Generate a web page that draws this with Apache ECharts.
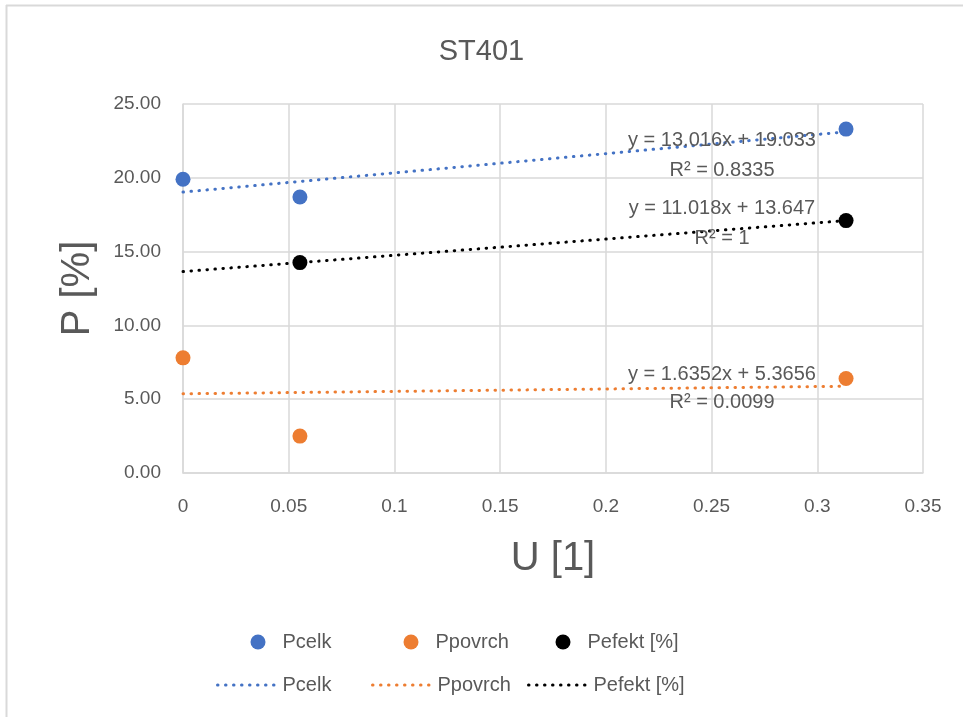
<!DOCTYPE html>
<html><head><meta charset="utf-8">
<script src="https://cdn.jsdelivr.net/npm/echarts@6/dist/echarts.min.js"></script>
<style>html,body{margin:0;padding:0;background:#fff}#c{width:963px;height:717px}</style>
</head><body><div id="c"></div>
<script>
const xPcelk = [0, 0.0553, 0.3136];
const yPcelk = [19.9, 18.7, 23.3];
const xPpovrch = [0, 0.0553, 0.3136];
const yPpovrch = [7.8, 2.5, 6.4];
const xPefekt = [0.0553, 0.3136];
const yPefekt = [14.256, 17.102];
const trendX = [0, 0.3136];
const trendPcelk = [19.033, 23.115];
const trendPpovrch = [5.3656, 5.878];
const trendPefekt = [13.647, 17.102];
const seriesNames = ['Pcelk', 'Ppovrch', 'Pefekt [%]'];
const eqTexts = ['y = 13.016x + 19.033', 'R² = 0.8335', 'y = 11.018x + 13.647', 'R² = 1', 'y = 1.6352x + 5.3656', 'R² = 0.0099'];
const colors = ['#4472C4', '#ED7D31', '#000000'];

const FONT = 'Liberation Sans, Arial, sans-serif';
const TXT = '#595959';
const GRID = '#d9d9d9';
const zip = (xs, ys) => xs.map((x, i) => [x, ys[i]]);

const chart = echarts.init(document.getElementById('c'));
const xs = [xPcelk, xPpovrch, xPefekt];
const ys = [yPcelk, yPpovrch, yPefekt];
const trends = [trendPcelk, trendPpovrch, trendPefekt];
const dotted = c => ({ color: c, width: 3, type: [0.5, 7.5], cap: 'round' });
const series = [];
seriesNames.forEach((n, i) => {
  series.push({
    name: n + '#t', type: 'line', data: zip(trendX, trends[i]), symbol: 'none', showSymbol: false,
    lineStyle: dotted(colors[i]), itemStyle: { color: colors[i] },
    z: 2, animation: false, silent: true
  });
});
seriesNames.forEach((n, i) => {
  series.push({
    name: n, type: 'scatter', data: zip(xs[i], ys[i]), symbol: 'circle', symbolSize: 15,
    itemStyle: { color: colors[i], opacity: 1 }, z: 3, animation: false
  });
});

const circLeft = [250.5, 403.5, 555.5];
const lineLeft = [216, 371, 527];
const legends = [];
seriesNames.forEach((n, i) => {
  legends.push({
    data: [n], left: circLeft[i], top: 632, padding: 0, icon: 'circle', itemWidth: 15, itemHeight: 15,
    itemStyle: { opacity: 1 },
    textStyle: { fontFamily: FONT, fontSize: 20, color: TXT, padding: [0, 0, 0, 12] }, selectedMode: false
  });
  legends.push({
    data: [n + '#t'], left: lineLeft[i], top: 675, padding: 0, itemWidth: 60, itemHeight: 14,
    itemStyle: { color: 'rgba(0,0,0,0)', borderWidth: 0, opacity: 0 },
    lineStyle: dotted(colors[i]),
    formatter: s => s.replace('#t', ''),
    textStyle: { fontFamily: FONT, fontSize: 20, color: TXT }, selectedMode: false
  });
});

const eqY = [140, 170, 208, 238, 374, 402];
const graphics = [
  { type: 'line', shape: { x1: 6.5, y1: 5, x2: 6.5, y2: 717 }, style: { stroke: GRID, lineWidth: 2 }, silent: true, z: -1 },
  { type: 'line', shape: { x1: 6, y1: 5.5, x2: 963, y2: 5.5 }, style: { stroke: GRID, lineWidth: 2 }, silent: true, z: -1 }
];
eqTexts.forEach((t, i) => {
  graphics.push({
    type: 'text', x: 722, y: eqY[i], z: 10,
    style: { text: t, fill: TXT, font: '20px ' + FONT, textAlign: 'center', textVerticalAlign: 'middle' }
  });
});

chart.setOption({
  animation: false,
  title: { text: 'ST401', left: 'center', top: 32, textStyle: { fontFamily: FONT, fontSize: 29, fontWeight: 'normal', color: TXT } },
  grid: { left: 183, right: 40, top: 104, bottom: 244, containLabel: false, show: false },
  xAxis: {
    type: 'value', min: 0, max: 0.35, interval: 0.05,
    name: 'U [1]', nameLocation: 'middle', nameGap: 66,
    nameTextStyle: { fontFamily: FONT, fontSize: 40, color: TXT },
    axisLine: { show: true, lineStyle: { color: GRID, width: 1.5 } },
    axisTick: { show: false },
    splitLine: { show: true, lineStyle: { color: GRID, width: 1.5 } },
    axisLabel: { fontFamily: FONT, fontSize: 19, color: TXT, margin: 24, formatter: v => String(+v.toFixed(2)) }
  },
  yAxis: {
    type: 'value', min: 0, max: 25, interval: 5,
    name: 'P [%]', nameLocation: 'middle', nameGap: 85, nameRotate: 90,
    nameTextStyle: { fontFamily: FONT, fontSize: 40, color: TXT },
    axisLine: { show: true, lineStyle: { color: GRID, width: 1.5 } },
    axisTick: { show: false },
    splitLine: { show: true, lineStyle: { color: GRID, width: 1.5 } },
    axisLabel: { fontFamily: FONT, fontSize: 19, color: TXT, margin: 22, formatter: v => v.toFixed(2) }
  },
  legend: legends,
  series: series,
  graphic: graphics
});
</script></body></html>
